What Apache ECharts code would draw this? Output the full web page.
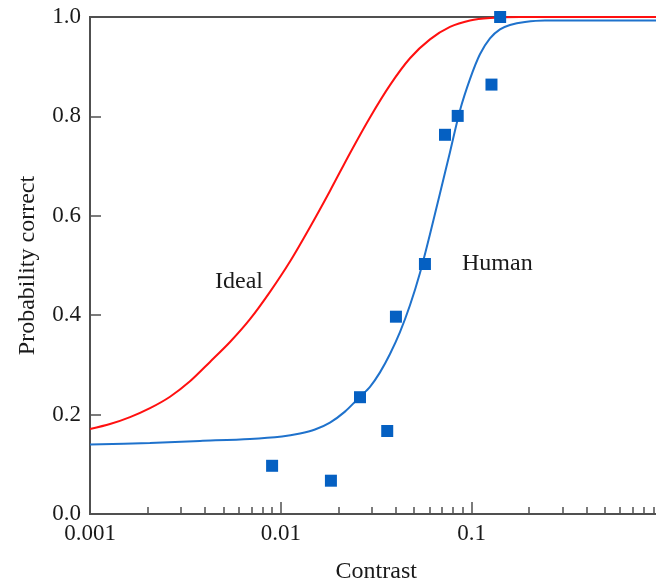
<!DOCTYPE html>
<html>
<head>
<meta charset="utf-8">
<script src="https://cdn.jsdelivr.net/npm/echarts@6/dist/echarts.min.js"></script>
<style>
html,body{margin:0;padding:0;background:#fff;}
#chart{width:656px;height:581px;}
</style>
</head>
<body>
<div id="chart"></div>
<script>
// ---- data ----
const contrastTicks = [0.001, 0.01, 0.1, 1];
const contrastTickLabels = ['0.001', '0.01', '0.1', '1'];
const contrastMinorTicks = [0.002, 0.003, 0.004, 0.005, 0.006, 0.007, 0.008, 0.009,
  0.02, 0.03, 0.04, 0.05, 0.06, 0.07, 0.08, 0.09,
  0.2, 0.3, 0.4, 0.5, 0.6, 0.7, 0.8, 0.9];

// Human observer measurements
const humanContrast = [0.009, 0.0183, 0.026, 0.0361, 0.0401, 0.0569, 0.0725, 0.0845, 0.127, 0.141];
const humanCorrect  = [0.097, 0.067, 0.235, 0.167, 0.397, 0.503, 0.763, 0.801, 0.864, 1.0];

// Human fitted curve
const humanFitContrast = [0.001, 0.00206, 0.00377, 0.00689, 0.01014, 0.0126, 0.0151, 0.01809,
  0.02168, 0.02599, 0.02932, 0.03308, 0.03732, 0.0421, 0.0475, 0.05359, 0.06047, 0.06821,
  0.07697, 0.08683, 0.09797, 0.1105, 0.1247, 0.1407, 0.1587, 0.1902, 0.2421, 0.5, 1.0];
const humanFitCorrect = [0.140, 0.143, 0.147, 0.151, 0.156, 0.162, 0.170, 0.184,
  0.206, 0.236, 0.256, 0.285, 0.322, 0.366, 0.420, 0.485, 0.563, 0.645,
  0.728, 0.812, 0.875, 0.925, 0.957, 0.975, 0.984, 0.990, 0.993, 0.993, 0.993];

// Ideal observer curve
const idealContrast = [0.001, 0.001273, 0.001621, 0.002063, 0.002626, 0.003342, 0.004254,
  0.005415, 0.006893, 0.008774, 0.01117, 0.01421, 0.01809, 0.02303, 0.02932, 0.03732,
  0.0475, 0.06047, 0.07697, 0.09797, 0.1247, 0.1791, 0.2901, 1.0];
const idealCorrect = [0.171, 0.181, 0.195, 0.213, 0.236, 0.267, 0.306,
  0.346, 0.392, 0.447, 0.508, 0.577, 0.650, 0.726, 0.798, 0.863,
  0.917, 0.955, 0.980, 0.993, 0.998, 1.0, 1.0, 1.0];

const seriesLabels = ['Ideal', 'Human'];
const xName = 'Contrast';
const yName = 'Probability correct';

function pairs(xs, ys) { return xs.map((x, i) => [x, ys[i]]); }

const FONT = '"Liberation Serif", "DejaVu Serif", serif';
const AXIS_COLOR = '#505050';
const TEXT_COLOR = '#1a1a1a';

const chart = echarts.init(document.getElementById('chart'), null, {renderer: 'canvas'});

chart.setOption({
  animation: false,
  backgroundColor: '#fff',
  grid: {
    left: 90, top: 17, width: 572.5, bottom: 67,
    outerBoundsMode: 'none', containLabel: false,
    show: true, borderColor: AXIS_COLOR, borderWidth: 2, backgroundColor: 'transparent'
  },
  xAxis: [
    {
      type: 'log', logBase: 10, min: 0.001, max: 1,
      position: 'bottom',
      name: xName, nameLocation: 'middle', nameGap: 46,
      nameTextStyle: {fontFamily: FONT, fontSize: 24, color: TEXT_COLOR},
      axisLine: {show: true, lineStyle: {color: AXIS_COLOR, width: 2}},
      axisTick: {show: true, inside: true, length: 12, customValues: contrastTicks,
        lineStyle: {color: AXIS_COLOR, width: 1.5}},
      axisLabel: {
        show: true, customValues: contrastTicks, margin: 8,
        fontFamily: FONT, fontSize: 23, color: TEXT_COLOR,
        formatter: function (v) {
          for (let i = 0; i < contrastTicks.length; i++) {
            if (Math.abs(Math.log10(v) - Math.log10(contrastTicks[i])) < 1e-6) return contrastTickLabels[i];
          }
          return '';
        }
      },
      splitLine: {show: false},
      minorTick: {show: false}
    },
    {
      type: 'log', logBase: 10, min: 0.001, max: 1,
      position: 'bottom',
      axisLine: {show: false},
      axisTick: {show: true, inside: true, length: 7, customValues: contrastMinorTicks,
        lineStyle: {color: AXIS_COLOR, width: 1.5}},
      axisLabel: {show: false},
      splitLine: {show: false}
    }
  ],
  yAxis: {
    type: 'value', min: 0, max: 1, interval: 0.2,
    name: yName, nameLocation: 'middle', nameGap: 50, nameRotate: 90,
    nameTextStyle: {fontFamily: FONT, fontSize: 24, color: TEXT_COLOR},
    axisLine: {show: true, lineStyle: {color: AXIS_COLOR, width: 2}},
    axisTick: {show: true, inside: true, length: 11, lineStyle: {color: AXIS_COLOR, width: 1.5}},
    axisLabel: {
      margin: 9, fontFamily: FONT, fontSize: 23, color: TEXT_COLOR,
      formatter: function (v) { return v.toFixed(1); }
    },
    splitLine: {show: false}
  },
  series: [
    {
      name: seriesLabels[1] + ' fit', type: 'line', xAxisIndex: 0,
      data: pairs(humanFitContrast, humanFitCorrect),
      smooth: 0.3, showSymbol: false, symbol: 'none',
      lineStyle: {color: '#1f72cc', width: 2}, z: 2
    },
    {
      name: seriesLabels[0], type: 'line', xAxisIndex: 0,
      data: pairs(idealContrast, idealCorrect),
      smooth: 0.3, showSymbol: false, symbol: 'none',
      lineStyle: {color: '#ff1010', width: 2}, z: 3
    },
    {
      name: seriesLabels[1], type: 'scatter', xAxisIndex: 0,
      data: pairs(humanContrast, humanCorrect),
      symbol: 'rect', symbolSize: 12,
      itemStyle: {color: '#0560c2', opacity: 1}, z: 4
    }
  ],
  graphic: [
    {type: 'text', left: 215, top: 270,
      style: {text: seriesLabels[0], font: '24px ' + FONT, fill: TEXT_COLOR}},
    {type: 'text', left: 462, top: 252,
      style: {text: seriesLabels[1], font: '24px ' + FONT, fill: TEXT_COLOR}}
  ]
});
</script>
</body>
</html>
